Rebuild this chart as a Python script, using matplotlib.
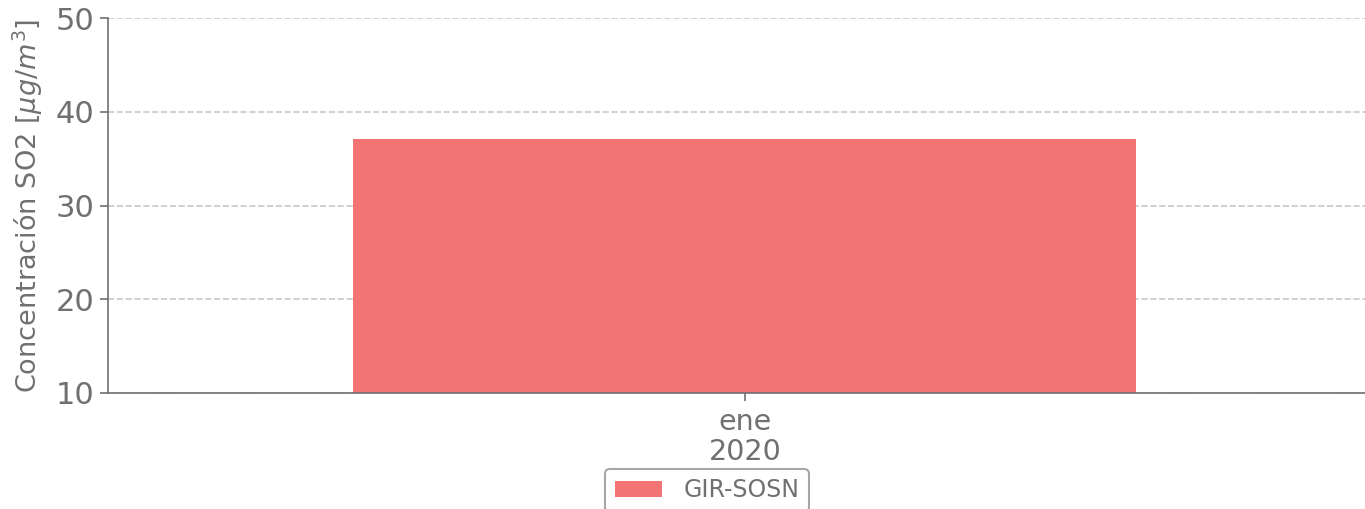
import matplotlib
matplotlib.use("Agg")
import matplotlib.pyplot as plt

# data
categories = ["ene\n2020"]
values = [37.1]
station = "GIR-SOSN"

gray = "#707070"

fig = plt.figure(figsize=(13.65, 5.09), dpi=100)
ax = fig.add_axes([108 / 1365, 1 - 393 / 509, 1257 / 1365, 375 / 509])

ax.bar(range(len(categories)), values, width=0.8, color="#f37474", label=station, zorder=2)

ax.set_xlim(-0.6507, 0.6335)
ax.set_ylim(10, 50)
ax.set_yticks([10, 20, 30, 40, 50])
ax.set_xticks(range(len(categories)))
ax.set_xticklabels(categories, fontsize=20.5, color=gray, linespacing=1.1)
ax.tick_params(axis="y", labelsize=22, colors=gray, length=6, width=1.2)
ax.tick_params(axis="x", colors=gray, length=6, width=1.2, pad=5)

# grid and spines
ax.yaxis.grid(True, linestyle="--", color="#c8c8c8", linewidth=1.2, zorder=0)
ax.set_axisbelow(True)
for s in ["top", "right"]:
    ax.spines[s].set_visible(False)
for s in ["left", "bottom"]:
    ax.spines[s].set_color(gray)
    ax.spines[s].set_linewidth(1.2)

ax.set_ylabel(r"Concentración SO2 [$\mu g/m^3$]", fontsize=19.5, color=gray, labelpad=8)

# legend below the axes
leg = fig.legend(loc="upper center", bbox_to_anchor=(707 / 1365, 1 - 469 / 509),
                 borderaxespad=0, fontsize=17, frameon=True, handlelength=2.0,
                 handletextpad=0.9, borderpad=0.4)
leg.get_frame().set_edgecolor("#909090")
leg.get_frame().set_linewidth(1.5)
for t in leg.get_texts():
    t.set_color(gray)

fig.savefig("out.png", dpi=100)
